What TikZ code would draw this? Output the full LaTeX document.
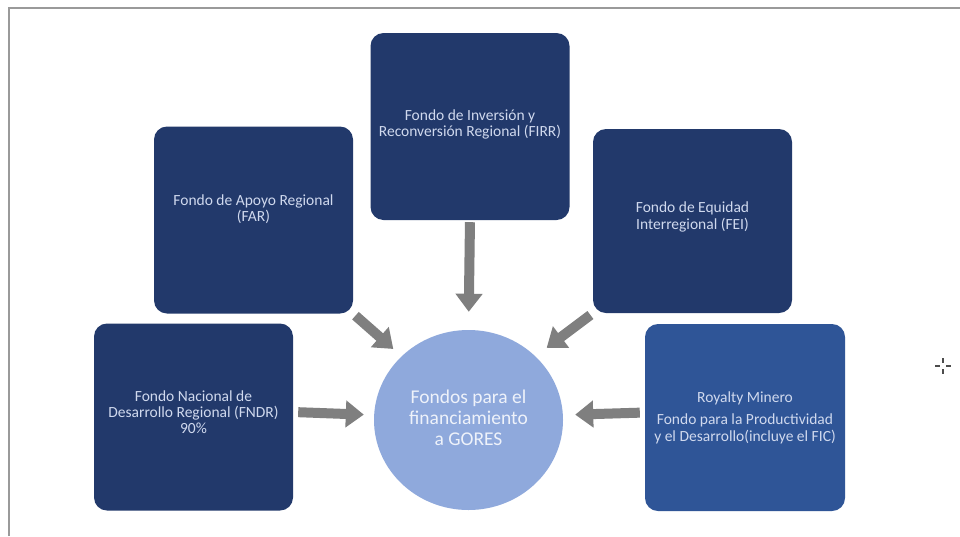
\documentclass[tikz,border=0pt]{standalone}
\usepackage{fontspec}
\setmainfont{Carlito}
\usetikzlibrary{arrows.meta,shapes.geometric,calc}
\definecolor{navy}{HTML}{22396B}
\definecolor{royblue}{HTML}{2F5597}
\definecolor{circfill}{HTML}{8FA9DC}
\definecolor{boxtext}{HTML}{D0D9EE}
\definecolor{circtext}{HTML}{EEF2FA}
\definecolor{arrowgray}{HTML}{7F7F7F}
\definecolor{framegray}{HTML}{9A9A9A}
\begin{document}
\begin{tikzpicture}[x=1pt,y=-1pt,
  fbox/.style={fill=navy, rounded corners=13pt, minimum width=199pt, minimum height=187pt, inner sep=0pt},
  ftext/.style={align=center, text=boxtext, inner sep=0pt},
  arr/.style={draw=arrowgray, line width=10pt, -{Triangle[width=26pt,length=18pt]}},
  cursor/.style={draw=black!70, line width=1.2pt}]
\useasboundingbox (0,0) rectangle (960,536);
\fill[white] (0,0) rectangle (960,536);
% frame
\draw[framegray, line width=2pt] (9,536) -- (9,8) -- (960,8);
% boxes
\node[fbox] (firr) at (470,126.5) {};
\node[ftext, font=\fontsize{15.5}{16}\selectfont] (firrT) at ($(firr)+(0,-2)$) {Fondo de Inversión y\\Reconversión Regional (FIRR)};
\node[fbox] (far) at (253.5,220) {};
\node[ftext, font=\fontsize{15.5}{16}\selectfont] (farT) at ($(far)+(0,-11)$) {Fondo de Apoyo Regional\\(FAR)};
\node[fbox, minimum height=184pt] (fei) at (692.5,221) {};
\node[ftext, font=\fontsize{15.5}{16.5}\selectfont] (feiT) at ($(fei)+(0,-4)$) {Fondo de Equidad\\Interregional (FEI)};
\node[fbox] (fndr) at (193.5,417) {};
\node[ftext, font=\fontsize{15.5}{16}\selectfont] (fndrT) at ($(fndr)+(0,-5)$) {Fondo Nacional de\\Desarrollo Regional (FNDR)\\90\%};
\node[fbox, fill=royblue, minimum width=200pt] (roy) at (745,417.5) {};
\node[ftext, font=\fontsize{15.5}{17}\selectfont] (royT) at ($(roy)+(0,0)$) {Royalty Minero\\[5pt]Fondo para la Productividad\\y el Desarrollo(incluye el FIC)};
% centre
\node[ellipse, fill=circfill, minimum width=189pt, minimum height=180pt, inner sep=0pt] (gores) at (468.5,420) {};
\node[ftext, text=circtext, font=\fontsize{19.5}{21}\selectfont] (goresT) at ($(gores)+(0,-2)$) {Fondos para el\\financiamiento\\a GORES};
% arrows
\draw[arr, shorten <=2pt, shorten >=18pt] (firr.south) -- (gores.north);
\draw[arr, shorten <=3pt, shorten >=11pt] (far.south east) -- (gores.north west);
\draw[arr, shorten <=3pt, shorten >=14pt] (fei.south west) -- (gores.north east);
\draw[arr, shorten <=5pt, shorten >=10pt] ([yshift=5pt]fndr.east) -- ([yshift=5pt]gores.west);
\draw[arr, shorten <=5pt, shorten >=12pt] ([yshift=5pt]roy.west) -- ([yshift=5pt]gores.east);
% cursor
\draw[cursor] (935,366) -- (940,366) (946,366) -- (951,366) (943,358) -- (943,363) (943,369) -- (943,374);
\end{tikzpicture}
\end{document}
